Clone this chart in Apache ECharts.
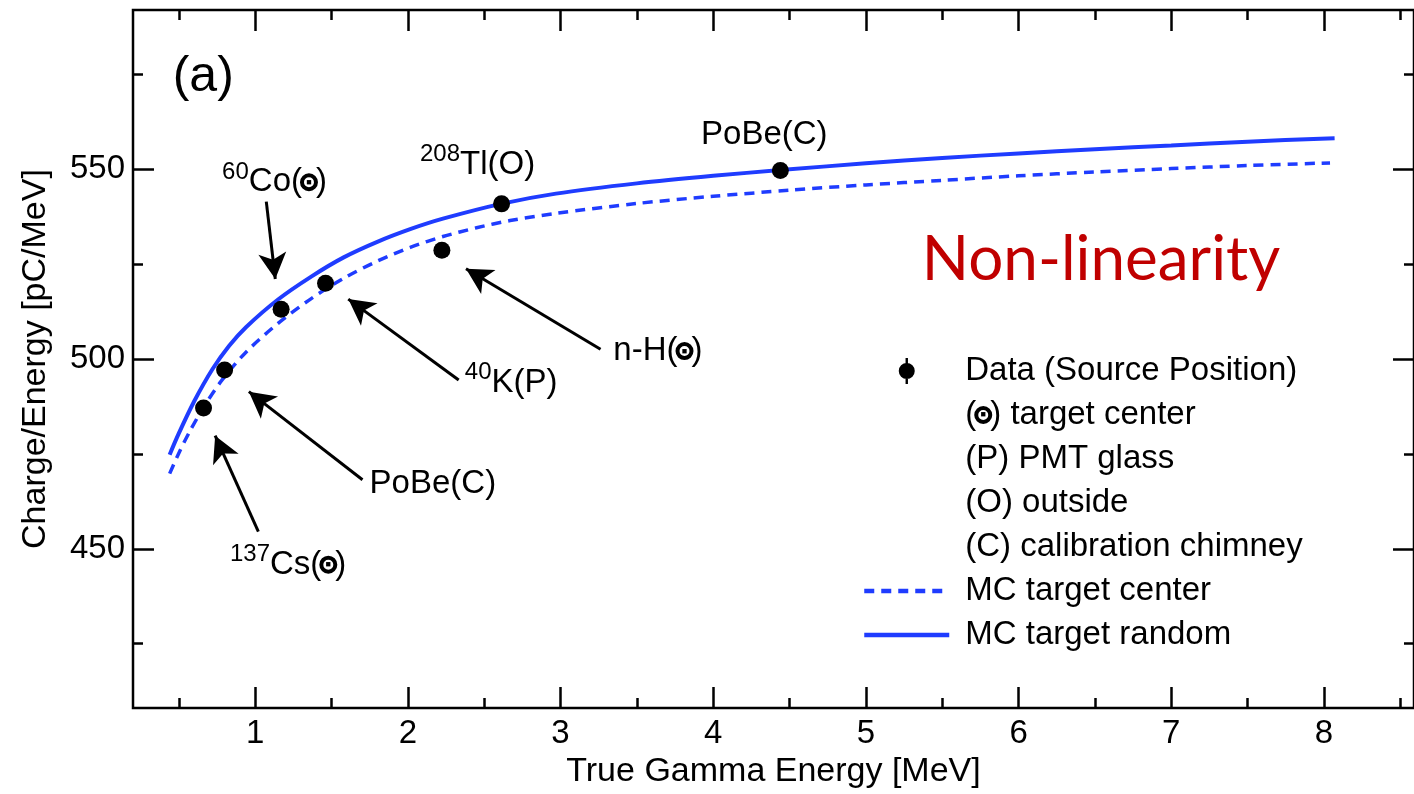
<!DOCTYPE html>
<html>
<head>
<meta charset="utf-8">
<script src="https://cdn.jsdelivr.net/npm/echarts@6.0.0/dist/echarts.min.js"></script>
<style>
  html, body { margin: 0; padding: 0; background: #fff; }
  #chart { width: 1414px; height: 794px; }
</style>
</head>
<body>
<div id="chart"></div>
<script>
// measured source points
const dataEnergy = [0.662, 0.80, 1.17, 1.461, 2.223, 2.614, 4.44];
const dataCharge = [487.1, 497.1, 513.1, 520.0, 528.7, 540.9, 549.7];

// MC curves
const mcRandomEnergy = [0.44, 0.50, 0.60, 0.72, 0.83, 0.94, 1.15, 1.37, 1.58, 1.80, 2.02, 2.23, 2.61, 2.97, 3.5, 4.0, 4.44, 5.0, 5.5, 6.0, 6.5, 7.0, 7.5, 8.07];
const mcRandomCharge = [474.8, 480.4, 488.8, 497.3, 503.5, 508.4, 515.7, 521.8, 526.8, 530.9, 534.3, 537.0, 540.9, 543.6, 546.3, 548.3, 549.8, 551.6, 553.0, 554.2, 555.3, 556.3, 557.3, 558.2];
const mcCenterEnergy = [0.44, 0.50, 0.57, 0.67, 0.78, 0.94, 1.15, 1.37, 1.58, 1.80, 2.02, 2.23, 2.45, 2.67, 2.97, 3.5, 4.0, 4.5, 5.0, 5.5, 6.0, 6.5, 7.0, 7.5, 8.04];
const mcCenterCharge = [469.8, 475.2, 480.8, 487.8, 494.3, 501.8, 509.4, 516.0, 521.3, 525.8, 529.5, 532.3, 534.6, 536.5, 538.4, 541.0, 542.9, 544.5, 545.9, 547.1, 548.3, 549.3, 550.2, 551.0, 551.7];

// ticks
const xTickLabels = [1, 2, 3, 4, 5, 6, 7, 8];
const xMinorTicks = [0.5, 1.5, 2.5, 3.5, 4.5, 5.5, 6.5, 7.5, 8.5];
const yTickLabels = [450, 500, 550];
const yMinorTicks = [425, 475, 525, 575];

// annotations (text placed at data coordinates)
const annotationText = [
  '{sup|60}{t|Co(}{tc|■}{t|)}',
  '{sup|208}{t|Tl(O)}',
  '{t|PoBe(C)}',
  '{t|n-H(}{tc|■}{t|)}',
  '{sup|40}{t|K(P)}',
  '{t|PoBe(C)}',
  '{sup|137}{t|Cs(}{tc|■}{t|)}',
  '{big|(a)}',
  '{red|Non-linearity}'
];
const annotationX = [1.127, 2.457, 4.335, 3.638, 2.677, 2.164, 1.216, 0.66, 6.54];
const annotationY = [546.6, 551.3, 559.1, 502.1, 493.75, 467.2, 445.8, 574.2, 526.0];

// arrows: tail -> head
const arrowFromX = [1.073, 2.333, 3.262, 1.703, 1.021];
const arrowFromY = [541.5, 494.5, 502.6, 468.2, 454.5];
const arrowToX = [1.132, 1.610, 2.381, 0.959, 0.738];
const arrowToY = [521.1, 515.8, 523.8, 491.4, 479.8];

const legendRows = {
  'target center': '{t|(}{tc|■}{t|) target center}',
  'PMT glass': '{t|(P) PMT glass}',
  'outside': '{t|(O) outside}',
  'calibration chimney': '{t|(C) calibration chimney}'
};

const FONT = 'Liberation Sans';
const BLUE = '#1f3cff';
const xMin = 0.2, xMax = 8.59, yMin = 408, yMax = 592;

const ringStyle = {
  width: 14, height: 14, lineHeight: 14, fontSize: 9, color: '#000',
  align: 'center', borderColor: '#000', borderWidth: 4, borderRadius: 11
};
const richText = {
  t: { fontFamily: FONT, fontSize: 33, lineHeight: 44, color: '#000' },
  sup: { fontFamily: FONT, fontSize: 24, lineHeight: 22, verticalAlign: 'top', color: '#000' },
  tc: ringStyle,
  big: { fontFamily: FONT, fontSize: 50, lineHeight: 56, color: '#000' },
  red: { fontFamily: 'Lato', fontSize: 62, lineHeight: 70, color: '#c00000' }
};
const legendRich = {
  t: { fontFamily: FONT, fontSize: 33, lineHeight: 34, color: '#000' },
  tc: ringStyle
};

function xAxisOf(position, ticks, len, labels) {
  return {
    type: 'value', position: position, min: xMin, max: xMax,
    splitLine: { show: false },
    axisLine: { show: false },
    axisTick: { show: true, inside: true, length: len, customValues: ticks, lineStyle: { color: '#000', width: 2.5 } },
    axisLabel: labels
      ? { show: true, customValues: ticks, margin: 9, fontFamily: FONT, fontSize: 33, color: '#000' }
      : { show: false }
  };
}
function yAxisOf(position, ticks, len, labels) {
  return {
    type: 'value', position: position, min: yMin, max: yMax,
    splitLine: { show: false },
    axisLine: { show: false },
    axisTick: { show: true, inside: true, length: len, customValues: ticks, lineStyle: { color: '#000', width: 2.5 } },
    axisLabel: labels
      ? { show: true, customValues: ticks, margin: 8, fontFamily: FONT, fontSize: 33, color: '#000' }
      : { show: false }
  };
}

const xAxes = [
  xAxisOf('bottom', xTickLabels, 21, true),
  xAxisOf('bottom', xMinorTicks, 10, false),
  xAxisOf('top', xTickLabels, 21, false),
  xAxisOf('top', xMinorTicks, 10, false)
];
xAxes[0].name = 'True Gamma Energy [MeV]';
xAxes[0].nameLocation = 'middle';
xAxes[0].nameGap = 41;
xAxes[0].nameTextStyle = { fontFamily: FONT, fontSize: 34, color: '#000' };

const yAxes = [
  yAxisOf('left', yTickLabels, 21, true),
  yAxisOf('left', yMinorTicks, 10, false),
  yAxisOf('right', yTickLabels, 21, false),
  yAxisOf('right', yMinorTicks, 10, false)
];
yAxes[0].name = 'Charge/Energy [pC/MeV]';
yAxes[0].nameLocation = 'middle';
yAxes[0].nameGap = 80;
yAxes[0].nameTextStyle = { fontFamily: FONT, fontSize: 34, color: '#000' };

const zip = (xs, ys) => xs.map((x, i) => [x, ys[i]]);

const dataIcon = 'path://M6.8,0H9.2V26H6.8Z M16,13A8,8 0 1 1 0,13A8,8 0 1 1 16,13Z';

const chart = echarts.init(document.getElementById('chart'));
chart.setOption({
  animation: false,
  backgroundColor: '#fff',
  grid: {
    left: 133, top: 10, right: -11, bottom: 80,
    show: true, borderColor: '#000', borderWidth: 2.5
  },
  xAxis: xAxes,
  yAxis: yAxes,
  legend: {
    orient: 'vertical',
    left: 862, top: 354, padding: 0,
    itemWidth: 85, itemHeight: 26, itemGap: 10,
    selectedMode: false,
    itemStyle: { opacity: 0 },
    lineStyle: { width: 4.5 },
    textStyle: { fontFamily: FONT, fontSize: 33, lineHeight: 34, color: '#000', padding: [0, 0, 0, 11], rich: legendRich },
    formatter: name => legendRows[name] || name,
    data: [
      { name: 'Data (Source Position)', icon: dataIcon, itemStyle: { opacity: 1, color: '#000' } },
      { name: 'target center', icon: 'none' },
      { name: 'PMT glass', icon: 'none' },
      { name: 'outside', icon: 'none' },
      { name: 'calibration chimney', icon: 'none' },
      'MC target center',
      'MC target random'
    ]
  },
  series: [
    {
      name: 'Data (Source Position)', type: 'scatter', z: 5,
      symbol: 'circle', symbolSize: 17,
      itemStyle: { color: '#000', opacity: 1 },
      data: zip(dataEnergy, dataCharge)
    },
    { name: 'target center', type: 'line', data: [] },
    { name: 'PMT glass', type: 'line', data: [] },
    { name: 'outside', type: 'line', data: [] },
    { name: 'calibration chimney', type: 'line', data: [] },
    {
      name: 'MC target center', type: 'line', smooth: 0.3, symbol: 'none',
      lineStyle: { color: BLUE, width: 3.5, type: [10, 7] },
      itemStyle: { color: BLUE },
      data: zip(mcCenterEnergy, mcCenterCharge)
    },
    {
      name: 'MC target random', type: 'line', smooth: 0.3, symbol: 'none',
      lineStyle: { color: BLUE, width: 4 },
      itemStyle: { color: BLUE },
      data: zip(mcRandomEnergy, mcRandomCharge)
    },
    {
      name: 'annotations', type: 'scatter', symbolSize: 0, silent: true, z: 6,
      itemStyle: { opacity: 1 },
      label: {
        show: true, position: 'inside', align: 'center', verticalAlign: 'middle',
        formatter: p => annotationText[p.dataIndex], rich: richText
      },
      data: zip(annotationX, annotationY),
      markLine: {
        silent: true, animation: false,
        symbol: ['none', 'arrow'], symbolSize: [21, 26],
        label: { show: false },
        lineStyle: { color: '#000', width: 3, type: 'solid', opacity: 1 },
        data: arrowFromX.map((x, i) => [
          { coord: [x, arrowFromY[i]] },
          { coord: [arrowToX[i], arrowToY[i]] }
        ])
      }
    }
  ]
});
</script>
</body>
</html>
